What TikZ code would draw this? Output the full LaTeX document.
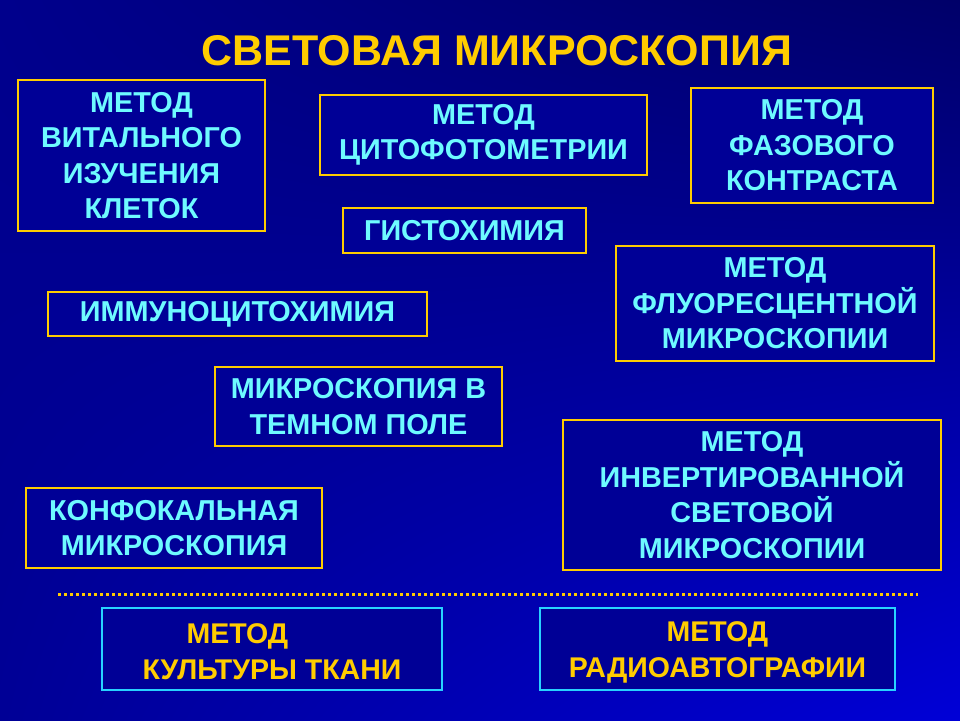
\documentclass[tikz,border=0pt]{standalone}
\usepackage{fontspec}
\setmainfont{Liberation Sans}
\usetikzlibrary{shadings}
\definecolor{txtcyan}{RGB}{110,250,255}
\definecolor{goldc}{RGB}{255,204,0}
\definecolor{boxfill}{RGB}{0,0,150}
\definecolor{cyanb}{RGB}{40,210,255}
\definecolor{bgUL}{RGB}{0,0,140}
\definecolor{bgUR}{RGB}{0,0,105}
\definecolor{bgLL}{RGB}{0,0,150}
\definecolor{bgLR}{RGB}{0,0,215}
\tikzset{
  mbox/.style={draw=goldc, line width=2.2pt, fill=boxfill, inner sep=0pt,
    align=center, text=txtcyan, font=\bfseries\fontsize{28.8}{35.5}\selectfont},
  lowbox/.style={draw=cyanb, line width=2.2pt, fill=boxfill, inner sep=0pt,
    text=goldc, font=\bfseries\fontsize{28.5}{36}\selectfont},
  dotline/.style={draw=goldc, line width=3pt, dash pattern=on 3pt off 3pt}
}
\begin{document}
\begin{tikzpicture}[x=1pt,y=1pt]
\useasboundingbox (0,0) rectangle (960,720);
\shade[upper left=bgUL, upper right=bgUR, lower left=bgLL, lower right=bgLR] (0,0) rectangle (960,720);
\node (title) at (497,669) {\color{goldc}\bfseries\fontsize{43}{50}\selectfont СВЕТОВАЯ МИКРОСКОПИЯ};
\node[mbox, minimum width=247pt, minimum height=151pt] (b1) at (141.5,564.5) {МЕТОД\\ВИТАЛЬНОГО\\ИЗУЧЕНИЯ\\КЛЕТОК};
\node[mbox, minimum width=327pt, minimum height=80pt] (b2) at (483.5,585) {МЕТОД\\ЦИТОФОТОМЕТРИИ};
\node[mbox, minimum width=242pt, minimum height=115pt] (b3) at (812,574.5) {МЕТОД\\ФАЗОВОГО\\КОНТРАСТА};
\node[mbox, minimum width=243pt, minimum height=45pt] (b4) at (464.5,489.5) {ГИСТОХИМИЯ};
\node[mbox, minimum width=318pt, minimum height=115pt] (b5) at (775,416.5) {МЕТОД\\ФЛУОРЕСЦЕНТНОЙ\\МИКРОСКОПИИ};
\node[mbox, minimum width=379pt, minimum height=44pt] (b6) at (237.5,406) {ИММУНОЦИТОХИМИЯ};
\node[mbox, minimum width=287pt, minimum height=79pt] (b7) at (358.5,313.5) {МИКРОСКОПИЯ В\\ТЕМНОМ ПОЛЕ};
\node[mbox, minimum width=378pt, minimum height=150pt] (b8) at (752,225) {МЕТОД\\ИНВЕРТИРОВАННОЙ\\СВЕТОВОЙ\\МИКРОСКОПИИ};
\node[mbox, minimum width=296pt, minimum height=80pt] (b9) at (174,192) {КОНФОКАЛЬНАЯ\\МИКРОСКОПИЯ};
\coordinate (dl) at (58,126);
\coordinate (dr) at (918,126);
\draw[dotline] (dl) -- (dr);
\node[lowbox, minimum width=340pt, minimum height=82pt] (b10) at (272,71) {};
\node[lowbox, minimum width=355pt, minimum height=82pt] (b11) at (717.5,71) {};
\node[lowbox, draw=none, fill=none, align=left] at ([yshift=-3pt]b10.center) {\hspace*{44pt}МЕТОД\\КУЛЬТУРЫ ТКАНИ};
\node[lowbox, draw=none, fill=none, align=center] at ([yshift=-3pt]b11.center) {МЕТОД\\РАДИОАВТОГРАФИИ};
\end{tikzpicture}
\end{document}
